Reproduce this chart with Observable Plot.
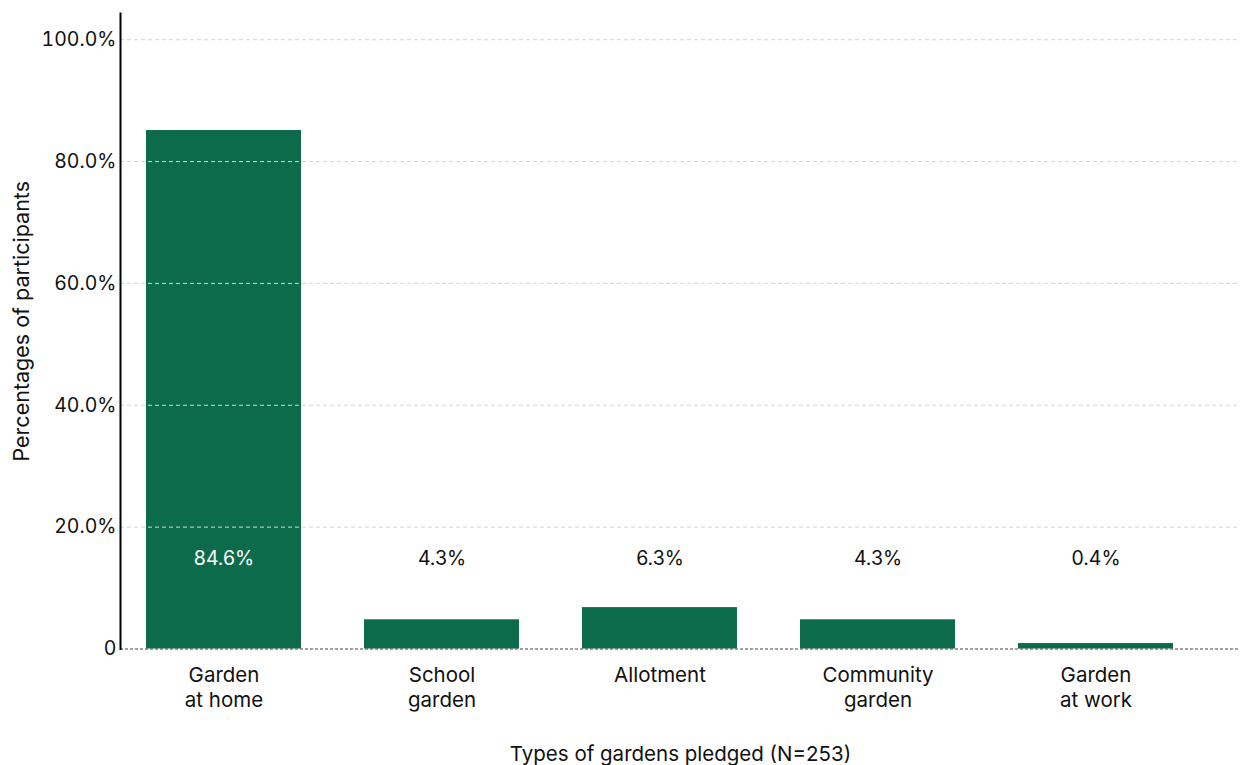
<!DOCTYPE html>
<html>
<head>
<meta charset="utf-8">
<script src="https://cdn.jsdelivr.net/npm/d3@7"></script>
<script src="https://cdn.jsdelivr.net/npm/@observablehq/plot@0.6"></script>
<style>
  body { margin: 0; background: #fff; }
</style>
</head>
<body>
<div id="chart"></div>
<script>
const categories = ["Garden\nat home", "School\ngarden", "Allotment", "Community\ngarden", "Garden\nat work"];
const percentages = [84.6, 4.3, 6.3, 4.3, 0.4];
const valueLabels = ["84.6%", "4.3%", "6.3%", "4.3%", "0.4%"];
const yTicks = [0, 20, 40, 60, 80, 100];
const labelLevel = 14.8;

const data = categories.map((c, i) => ({category: c, value: percentages[i], label: valueLabels[i], inside: i === 0}));

const font = "Inter, 'Noto Sans', sans-serif";
const chart = Plot.plot({
  width: 1240,
  height: 765,
  marginLeft: 120,
  marginRight: 0,
  marginTop: 13,
  marginBottom: 116.5,
  style: {fontSize: "20px", fontFamily: font, color: "#111"},
  x: {domain: categories, paddingInner: 0.2875, paddingOuter: 0.1145, insetRight: 41, label: null},
  y: {domain: [0, 104.3], label: null},
  marks: [
    Plot.barY(data, {x: "category", y: "value", fill: "#0c6b4a", insetTop: -3}),
    Plot.gridY(yTicks.filter(d => d > 0), {stroke: "#c4dcd6", strokeOpacity: 1, strokeDasharray: "4,3", strokeWidth: 1}),
    Plot.ruleY([0], {stroke: "#444", strokeDasharray: "3,2", strokeWidth: 1.2}),
    Plot.axisY({ticks: yTicks, tickSize: 0, tickPadding: 4, tickFormat: d => d === 0 ? "0" : d.toFixed(1) + "%", fontSize: 19.5, label: null}),
    Plot.frame({anchor: "left", stroke: "#000", strokeWidth: 2}),
    Plot.axisX({tickSize: 0, tickPadding: 15, fontSize: 20.5, lineHeight: 1.22, label: null}),
    Plot.text(data, {x: "category", y: () => labelLevel, text: "label", fill: d => d.inside ? "#fff" : "#111", fontSize: 19.5}),
    Plot.text(["Percentages of participants"], {frameAnchor: "left", textAnchor: "middle", dx: -98, dy: -10, rotate: -90, fontSize: 21.5, fill: "#111"}),
    Plot.text(["Types of gardens pledged (N=253)"], {frameAnchor: "bottom", dy: 112, fontSize: 20.5, fill: "#111"})
  ]
});
document.getElementById("chart").appendChild(chart);
</script>
</body>
</html>
